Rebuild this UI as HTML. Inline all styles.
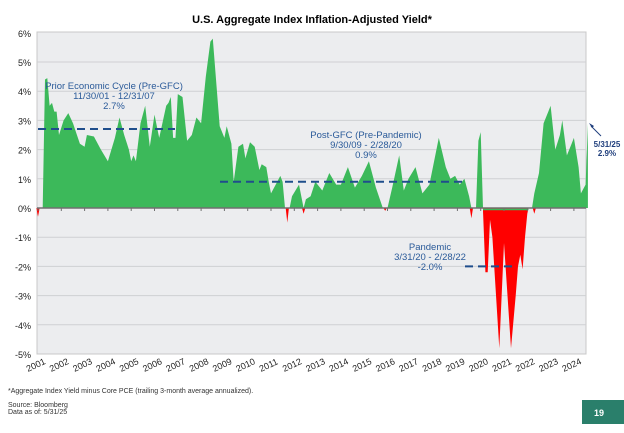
<!DOCTYPE html>
<html><head><meta charset="utf-8"><style>
body{margin:0;width:624px;height:428px;background:#fff;overflow:hidden;font-family:"Liberation Sans",sans-serif}
</style></head><body>
<svg id="s" width="624" height="428" xmlns="http://www.w3.org/2000/svg" font-family="Liberation Sans, sans-serif">
<text x="312" y="23" font-size="11" font-weight="bold" text-anchor="middle" fill="#000">U.S. Aggregate Index Inflation-Adjusted Yield*</text>
<rect x="37" y="32" width="549" height="322" fill="#ecedef" stroke="#c8c8c8"/>
<g id="grid" stroke="#cfd0d3" stroke-width="1"></g>
<g id="ser"></g>
<g id="ax"></g>
<line x1="38" y1="129" x2="175" y2="129" stroke="#1f4e8c" stroke-width="2" stroke-dasharray="8,5"/>
<line x1="220" y1="181.7" x2="462" y2="181.7" stroke="#1f4e8c" stroke-width="2" stroke-dasharray="8,5"/>
<line x1="465" y1="266.4" x2="512" y2="266.4" stroke="#1f4e8c" stroke-width="2" stroke-dasharray="8,5"/>
<g font-size="9.5" fill="#2a5a99" text-anchor="middle">
<text x="114" y="89">Prior Economic Cycle (Pre-GFC)</text>
<text x="114" y="99">11/30/01 - 12/31/07</text>
<text x="114" y="109">2.7%</text>
<text x="366" y="138">Post-GFC (Pre-Pandemic)</text>
<text x="366" y="148">9/30/09 - 2/28/20</text>
<text x="366" y="158">0.9%</text>
<text x="430" y="250">Pandemic</text>
<text x="430" y="260">3/31/20 - 2/28/22</text>
<text x="430" y="270">-2.0%</text>
</g>
<line x1="601" y1="136" x2="591" y2="126" stroke="#1f3e7c" stroke-width="1"/>
<polygon points="589,123 594,126 592,128" fill="#1f3e7c"/>
<g font-size="8" font-weight="bold" fill="#1f3e7c" text-anchor="middle">
<text x="607" y="147">5/31/25</text><text x="607" y="156">2.9%</text></g>
<g font-size="7" fill="#333">
<text x="8" y="393">*Aggregate Index Yield minus Core PCE (trailing 3-month average annualized).</text>
<text x="8" y="407">Source: Bloomberg</text>
<text x="8" y="414">Data as of: 5/31/25</text></g>
<rect x="582" y="400" width="42" height="24" fill="#2a7f6b"/>
<text x="594" y="416" font-size="9" font-weight="bold" fill="#fff">19</text>
</svg>
<script>
var NS="http://www.w3.org/2000/svg";
function X(t){return 38+(t-2001)*23.3}
function Y(v){return 208-v*29.2}
function el(n,a,p,txt){var e=document.createElementNS(NS,n);for(var k in a)e.setAttribute(k,a[k]);if(txt)e.textContent=txt;document.getElementById(p).appendChild(e);return e}
for(var v=-5;v<=6;v++){ if(v!=0&&v!=-5&&v!=6) el("line",{x1:37,x2:586,y1:Y(v),y2:Y(v)},"grid");
 el("text",{x:31,y:Y(v)+4,"font-size":9,"text-anchor":"end",fill:"#222"},"ax",v+"%");}
var g=[[2001,0],[2001.2,0],[2001.3,4.4],[2001.4,4.45],[2001.5,3.5],[2001.6,3.6],[2001.7,3.3],[2001.8,3.3],[2001.9,2.5],[2002.1,3.0],[2002.3,3.25],[2002.5,2.9],[2002.8,2.2],[2003,2.1],[2003.1,2.5],[2003.4,2.45],[2003.7,2.0],[2004,1.6],[2004.3,2.4],[2004.5,3.1],[2004.7,2.5],[2004.9,2.0],[2005,1.6],[2005.1,1.8],[2005.2,1.6],[2005.4,2.9],[2005.6,3.5],[2005.8,2.1],[2006,3.2],[2006.2,2.4],[2006.5,3.5],[2006.6,3.6],[2006.7,3.8],[2006.8,2.4],[2006.9,2.4],[2007,3.9],[2007.2,3.8],[2007.4,2.3],[2007.6,2.5],[2007.8,3.1],[2008,2.9],[2008.2,4.5],[2008.4,5.7],[2008.5,5.8],[2008.8,2.8],[2009,2.4],[2009.1,2.8],[2009.3,2.2],[2009.4,0.9],[2009.6,2.1],[2009.8,2.2],[2009.9,1.7],[2010.1,2.25],[2010.3,2.1],[2010.5,1.3],[2010.6,1.5],[2010.8,1.4],[2010.9,0.9],[2011,0.5],[2011.2,0.8],[2011.4,1.1],[2011.5,0.9],[2011.6,0],[2011.8,0],[2011.9,0.4],[2012.2,0.8],[2012.4,0],[2012.5,0.3],[2012.7,0.4],[2012.9,0.9],[2013.2,0.6],[2013.5,1.2],[2013.8,0.8],[2014,0.8],[2014.3,1.4],[2014.6,0.7],[2014.9,1.1],[2015.2,1.6],[2015.5,0.7],[2015.8,0],[2016,0],[2016.2,0.7],[2016.5,1.8],[2016.7,0.6],[2016.9,1.0],[2017.2,1.4],[2017.5,0.5],[2017.8,0.8],[2018,1.6],[2018.2,2.4],[2018.5,1.4],[2018.7,1.0],[2018.9,1.1],[2019.1,0.8],[2019.3,1.0],[2019.5,0.4],[2019.6,0],[2019.8,0],[2019.9,2.3],[2020,2.6],[2020.1,0],[2022.1,0],[2022.2,0],[2022.3,0.5],[2022.5,1.2],[2022.7,2.9],[2022.9,3.3],[2023,3.5],[2023.2,2.0],[2023.4,2.5],[2023.5,3.0],[2023.7,1.8],[2023.9,2.2],[2024,2.4],[2024.2,1.4],[2024.3,0.5],[2024.5,0.8],[2024.6,2.9],[2024.6,0]];
function poly(d,c){el("polygon",{points:d.map(function(p){return X(p[0]).toFixed(1)+","+Y(p[1]).toFixed(1)}).join(" "),fill:c},"ser")}
poly(g,"#3cb95a");
poly([[2020.1,0],[2020.1,-0.1],[2020.2,-2.2],[2020.3,-2.2],[2020.4,-0.4],[2020.5,-1.0],[2020.8,-4.8],[2021,-1.2],[2021.3,-4.8],[2021.5,-3.0],[2021.6,-2.0],[2021.7,-1.6],[2021.8,-2.1],[2021.9,-1.0],[2022,-0.2],[2022.05,0]],"#ff0000");
[[2001,0.3],[2011.7,0.5],[2012.4,0.2],[2015.9,0.1],[2019.6,0.35],[2022.3,0.2]].forEach(function(r){poly([[r[0]-0.07,0],[r[0],-r[1]],[r[0]+0.07,0]],"#ff0000")});
el("line",{x1:37,x2:586,y1:208,y2:208,stroke:"#707070","stroke-width":1.5},"ax");
el("line",{x1:X(2020.1),x2:X(2022.05),y1:209.5,y2:209.5,stroke:"#3cb95a","stroke-width":1.5},"ax");
for(var yr=2001;yr<=2024;yr++){var x=X(yr);
 el("line",{x1:x,x2:x,y1:208,y2:211,stroke:"#707070"},"ax");
 el("text",{x:0,y:0,"font-size":9,fill:"#222",transform:"translate("+(x-10)+",372) rotate(-25)"},"ax",yr);}
</script>
</body></html>
